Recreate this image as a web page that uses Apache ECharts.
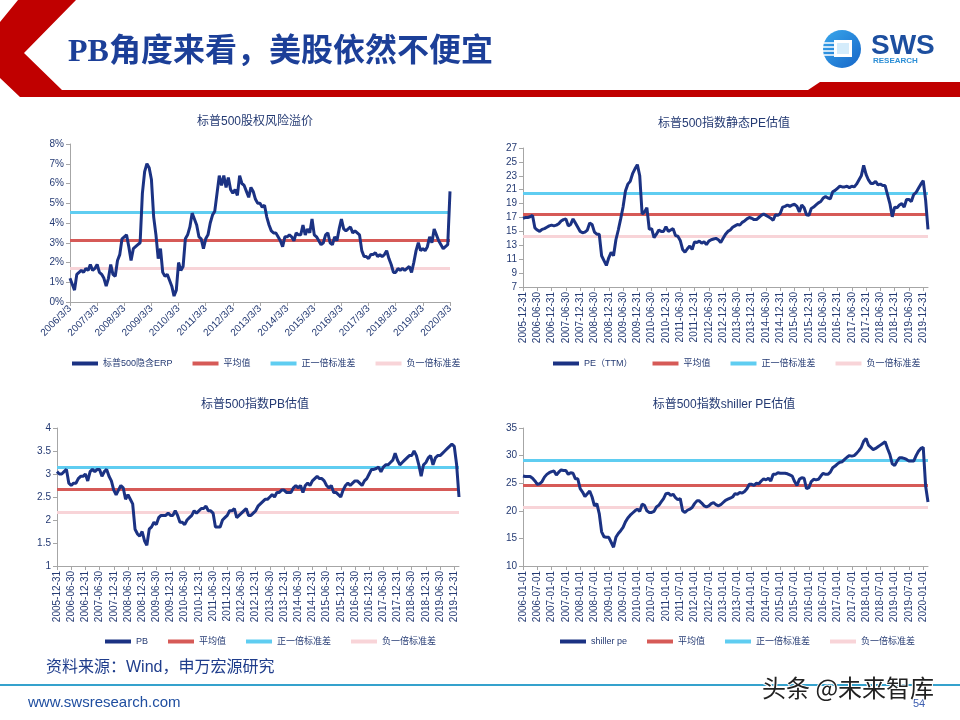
<!DOCTYPE html>
<html>
<head>
<meta charset="utf-8">
<title>PB角度来看，美股依然不便宜</title>
<script src="https://cdn.jsdelivr.net/npm/echarts@6/dist/echarts.min.js"></script>
<style>
html, body { margin: 0; padding: 0; background: #fff; }
#main { width: 960px; height: 720px; }
</style>
</head>
<body>
<div id="main"></div>
<script type="text/javascript">
// 标普500隐含ERP（%），2006/3 起逐月
var erpValues = [
  1.2,0.9,0.6,1.4,1.5,1.6,1.5,1.7,1.6,1.9,1.6,1.7,
  1.9,1.5,1.4,1.2,0.8,1.2,1.9,1.4,1.3,2.1,2.4,3.2,
  3.3,3.4,2.8,2.1,2.7,2.8,2.9,3.0,5.5,6.6,7.0,6.8,
  6.2,4.3,3.4,2.2,2.7,1.5,1.3,1.4,1.1,0.8,0.3,0.6,
  2.0,1.6,1.8,3.2,3.4,3.8,4.5,4.2,3.9,3.3,3.2,2.7,
  3.2,3.4,4.0,4.4,4.6,5.5,6.4,5.9,6.4,5.8,6.3,5.7,
  5.5,5.7,5.4,6.4,6.0,5.9,5.6,5.3,5.8,5.6,5.2,5.0,
  5.0,4.8,4.9,4.3,3.9,3.6,3.5,3.5,3.3,3.1,2.8,3.3,
  3.3,3.4,3.3,3.1,3.5,3.4,3.4,3.9,3.4,3.7,3.5,4.2,
  3.4,3.3,3.1,2.9,3.0,3.4,3.5,3.0,2.9,3.3,3.1,3.7,
  4.2,3.7,3.6,3.7,3.8,3.5,3.6,3.5,3.4,2.6,2.3,2.3,
  2.2,2.4,2.4,2.5,2.3,2.4,2.3,2.4,2.6,2.2,1.9,1.5,
  1.5,1.7,1.6,1.7,1.6,1.7,1.8,1.5,2.0,2.6,3.0,2.6,
  2.7,2.6,2.8,3.3,3.0,3.7,3.4,3.1,2.9,2.7,2.8,2.9,
  5.6
];
var erpBands = [3.12, 4.53, 1.73];

// 标普500静态PE（TTM），2005-12 起逐月
var peValues = [
  16.9,17.0,17.0,17.1,17.3,15.5,15.2,15.0,15.3,15.4,15.6,15.8,
  15.9,15.8,15.9,16.1,16.5,16.7,16.8,15.8,16.0,16.8,16.2,15.6,
  15.0,14.8,14.9,15.2,16.2,16.0,14.9,14.6,14.6,11.5,10.8,10.1,
  11.2,12.0,11.5,13.8,15.2,16.8,18.5,20.8,21.8,22.2,23.3,24.0,
  24.6,23.0,17.5,17.8,18.4,15.3,15.4,14.1,14.6,15.2,15.0,15.0,
  15.7,15.0,15.2,15.4,14.4,14.3,13.7,12.4,12.0,12.5,12.9,12.4,
  13.5,13.4,13.6,13.3,13.5,13.1,13.6,13.8,13.9,14.0,13.8,13.4,
  14.0,14.6,15.0,15.2,15.6,15.8,16.0,15.9,16.3,16.5,16.8,17.0,
  16.9,16.7,16.7,17.0,17.3,17.5,17.3,17.1,16.9,16.6,17.4,17.3,
  17.6,18.5,18.6,18.8,18.6,18.8,18.9,18.6,17.8,18.8,18.4,17.4,
  17.3,18.3,18.5,18.8,19.1,19.3,19.8,20.0,19.8,19.7,20.7,20.9,
  21.2,21.5,21.4,21.4,21.5,21.3,21.5,21.4,21.8,22.4,23.0,24.5,
  23.2,22.4,21.9,21.9,22.2,21.7,21.8,21.6,21.6,20.3,19.0,17.1,
  18.5,18.4,18.8,19.0,18.5,19.6,19.6,19.3,20.3,20.6,21.2,21.8,
  22.3,19.5,15.3
];
var peBands = [17.4, 20.43, 14.29];

// 标普500 PB，2005-12 起逐月
var pbValues = [
  3.05,3.0,3.0,3.05,3.1,2.8,2.75,2.8,2.8,2.9,2.95,2.95,
  3.0,2.85,3.05,3.1,3.05,3.1,3.1,2.95,3.05,3.1,2.95,2.85,
  2.65,2.55,2.65,2.75,2.7,2.45,2.55,2.45,2.35,1.8,1.7,1.65,
  1.75,1.55,1.45,1.8,1.85,1.95,1.9,2.05,2.1,2.1,2.1,2.15,
  2.1,2.1,2.2,2.1,1.95,1.95,1.9,2.0,2.05,2.1,2.2,2.15,
  2.2,2.25,2.25,2.3,2.2,2.2,2.15,1.85,1.85,1.85,2.0,2.05,
  2.1,2.2,2.2,2.25,2.05,2.1,2.15,2.2,2.25,2.1,2.1,2.15,
  2.2,2.3,2.35,2.4,2.45,2.45,2.5,2.55,2.5,2.6,2.6,2.65,
  2.65,2.6,2.6,2.6,2.7,2.75,2.7,2.75,2.6,2.75,2.8,2.75,
  2.85,2.9,2.95,2.9,2.9,2.85,2.75,2.7,2.75,2.6,2.6,2.55,
  2.5,2.65,2.75,2.8,2.75,2.8,2.85,2.85,2.8,2.75,2.85,2.9,
  3.0,3.1,3.1,3.12,3.15,3.05,3.15,3.2,3.2,3.25,3.3,3.45,
  3.3,3.2,3.25,3.3,3.35,3.4,3.4,3.5,3.4,3.2,2.95,3.2,
  3.25,3.35,3.4,3.2,3.35,3.4,3.4,3.45,3.5,3.55,3.6,3.65,
  3.6,3.2,2.5
];
var pbBands = [2.667, 3.148, 2.165];

// 标普500 shiller PE，2006-01 起逐月
var shillerValues = [
  26.3,26.2,26.2,26.2,25.9,25.4,24.8,24.9,25.3,26.1,26.6,26.9,
  27.1,27.2,26.5,27.0,27.4,27.3,27.3,26.6,26.9,26.8,25.8,25.8,
  24.0,23.4,22.6,23.1,23.6,22.5,20.9,21.3,19.5,16.2,15.3,15.2,
  15.2,14.3,13.4,15.2,15.9,16.4,17.0,18.0,18.7,19.2,19.6,20.0,
  20.3,19.9,21.2,21.0,20.0,19.7,19.7,19.9,20.7,21.0,21.6,22.2,
  23.1,23.2,22.8,23.0,22.4,22.0,22.2,20.0,19.7,20.1,20.3,20.6,
  21.3,21.8,21.8,21.4,20.9,20.7,20.9,21.3,21.5,21.1,20.9,21.1,
  21.5,21.9,22.1,22.3,22.5,23.1,23.0,23.3,23.2,23.5,24.0,24.8,
  24.8,24.6,25.0,24.9,25.4,25.8,25.6,25.9,25.4,26.6,26.6,26.9,
  26.8,26.8,26.8,26.7,26.5,26.3,25.3,24.6,25.7,26.0,25.9,24.0,
  24.2,25.3,25.7,25.6,25.7,26.3,26.8,26.6,26.6,27.0,27.8,28.1,
  28.5,28.8,28.9,29.3,29.7,30.0,29.9,30.0,30.4,30.9,31.5,32.6,
  33.1,31.9,31.5,31.1,31.3,31.6,31.9,32.2,32.5,31.3,30.2,28.5,
  28.2,29.0,29.6,29.6,29.5,29.3,29.0,29.0,29.0,30.0,30.8,31.3,
  31.5,24.5,21.6
];
var shillerBands = [24.71, 29.13, 20.65];

var bandNames = ['平均值', '正一倍标准差', '负一倍标准差'];
var bandColors = ['#d65a57', '#5fcdf1', '#f8d4d8'];
var lineColor = '#1b3283';
var textColor = '#243a73';
var axisColor = '#a6a6a6';
var fontFamily = "'Liberation Sans', 'Noto Sans CJK SC', sans-serif";

// 生成逐月类目标签
function monthLabels(year, month, n, kind) {
  var out = [];
  var ends = [31, 28, 31, 30, 31, 30, 31, 31, 30, 31, 30, 31];
  for (var i = 0; i < n; i++) {
    var mm = month < 10 ? '0' + month : '' + month;
    if (kind === 'slash') {
      out.push(year + '/' + month + '/3');
    } else if (kind === 'end') {
      var d = ends[month - 1];
      if (month === 2 && year % 4 === 0) d = 29;
      out.push(year + '-' + mm + '-' + d);
    } else {
      out.push(year + '-' + mm + '-01');
    }
    month++;
    if (month > 12) { month = 1; year++; }
  }
  return out;
}

var erpDates = monthLabels(2006, 3, erpValues.length, 'slash');
var peDates = monthLabels(2005, 12, peValues.length, 'end');
var pbDates = monthLabels(2005, 12, pbValues.length, 'end');
var shillerDates = monthLabels(2006, 1, shillerValues.length, 'start');

var charts = [
  { title: '标普500股权风险溢价', name: '标普500隐含ERP', dates: erpDates, values: erpValues, bands: erpBands,
    grid: { left: 70, top: 144, width: 380, height: 158 }, min: 0, max: 8, interval: 1, fmt: '{value}%',
    step: 12, rotate: 45, titleX: 250, titleY: 111, legendX: 67, legendY: 354 },
  { title: '标普500指数静态PE估值', name: 'PE（TTM）', dates: peDates, values: peValues, bands: peBands,
    grid: { left: 523, top: 148, width: 405, height: 139 }, min: 7, max: 27, interval: 2, fmt: '{value}',
    step: 6, rotate: 90, titleX: 719, titleY: 113, legendX: 548, legendY: 354 },
  { title: '标普500指数PB估值', name: 'PB', dates: pbDates, values: pbValues, bands: pbBands,
    grid: { left: 57, top: 428, width: 402, height: 138 }, min: 1, max: 4, interval: 0.5, fmt: '{value}',
    step: 6, rotate: 90, titleX: 250, titleY: 394, legendX: 100, legendY: 632 },
  { title: '标普500指数shiller PE估值', name: 'shiller pe', dates: shillerDates, values: shillerValues, bands: shillerBands,
    grid: { left: 523, top: 428, width: 405, height: 138 }, min: 10, max: 35, interval: 5, fmt: '{value}',
    step: 6, rotate: 90, titleX: 719, titleY: 394, legendX: 555, legendY: 632 }
];

var option = {
  animation: false,
  backgroundColor: '#ffffff',
  textStyle: { fontFamily: fontFamily },
  title: [], grid: [], xAxis: [], yAxis: [], legend: [], series: []
};

charts.forEach(function (c, i) {
  option.title.push({
    text: c.title, left: c.titleX, top: c.titleY, textAlign: 'center',
    textStyle: { fontSize: 12, fontWeight: 'normal', color: textColor, fontFamily: fontFamily }
  });
  option.grid.push(c.grid);
  option.xAxis.push({
    gridIndex: i, type: 'category', data: c.dates, boundaryGap: false,
    axisLine: { lineStyle: { color: axisColor } },
    axisTick: { show: true, interval: c.step - 1, length: 4, lineStyle: { color: axisColor } },
    axisLabel: { interval: c.step - 1, rotate: c.rotate, fontSize: 10, color: textColor, margin: 5 }
  });
  option.yAxis.push({
    gridIndex: i, type: 'value', min: c.min, max: c.max, interval: c.interval,
    splitLine: { show: false },
    axisLine: { show: true, lineStyle: { color: axisColor } },
    axisTick: { show: true, length: 4, lineStyle: { color: axisColor } },
    axisLabel: { fontSize: 10, color: textColor, margin: 6, formatter: c.fmt }
  });
  option.legend.push({
    data: [c.name].concat(bandNames), left: c.legendX, top: c.legendY,
    icon: 'rect', itemWidth: 26, itemHeight: 4, itemGap: 20,
    textStyle: { fontSize: 9, color: textColor }
  });
  option.series.push({
    type: 'line', name: c.name, xAxisIndex: i, yAxisIndex: i, data: c.values,
    symbol: 'none', color: lineColor, lineStyle: { width: 3, color: lineColor }, z: 5
  });
  c.bands.forEach(function (v, k) {
    option.series.push({
      type: 'line', name: bandNames[k], xAxisIndex: i, yAxisIndex: i, data: [],
      symbol: 'none', color: bandColors[k], lineStyle: { width: 3, color: bandColors[k] }, z: 3,
      markLine: {
        silent: true, symbol: ['none', 'none'], label: { show: false },
        lineStyle: { color: bandColors[k], width: 3, type: 'solid' },
        data: [{ yAxis: v }]
      }
    });
  });
});

// 页眉、页脚
option.graphic = [
  { type: 'polygon', silent: true, shape: { points: [[18, 0], [76, 0], [24, 53], [62, 90], [808, 90], [820, 82],
      [960, 82], [960, 97], [20, 97], [0, 78], [0, 22]] }, style: { fill: '#c00000' } },
  { type: 'text', x: 68, y: 53, style: { text: 'PB角度来看，美股依然不便宜', fill: '#1c3f98',
      font: "bold 32px 'Liberation Serif', 'Noto Sans CJK SC', serif", verticalAlign: 'middle' } },
  { type: 'circle', shape: { cx: 842, cy: 49, r: 19 }, style: { fill: new echarts.graphic.LinearGradient(0, 0, 1, 1,
      [{ offset: 0, color: '#3aa8ec' }, { offset: 1, color: '#1565c8' }]) } },
  { type: 'rect', shape: { x: 834, y: 40, width: 18, height: 17 }, style: { fill: '#ffffff' } },
  { type: 'rect', shape: { x: 837, y: 43, width: 12, height: 11 }, style: { fill: '#d4ecfb' } },
  { type: 'line', shape: { x1: 824, y1: 43, x2: 834, y2: 43 }, style: { stroke: '#ffffff', lineWidth: 1.5 } },
  { type: 'line', shape: { x1: 823, y1: 47, x2: 834, y2: 47 }, style: { stroke: '#ffffff', lineWidth: 1.5 } },
  { type: 'line', shape: { x1: 823, y1: 51, x2: 834, y2: 51 }, style: { stroke: '#ffffff', lineWidth: 1.5 } },
  { type: 'line', shape: { x1: 824, y1: 55, x2: 834, y2: 55 }, style: { stroke: '#ffffff', lineWidth: 1.5 } },
  { type: 'text', x: 871, y: 46, style: { text: 'SWS', fill: '#1d4f9f',
      font: "bold 28px 'Liberation Sans', sans-serif", verticalAlign: 'middle' } },
  { type: 'text', x: 873, y: 61, style: { text: 'RESEARCH', fill: '#2d8fd6',
      font: "bold 8px 'Liberation Sans', sans-serif", verticalAlign: 'middle' } },
  { type: 'text', x: 46, y: 668, style: { text: '资料来源：Wind，申万宏源研究', fill: '#1f3d8c',
      font: "16px 'Liberation Sans', 'Noto Sans CJK SC', sans-serif", verticalAlign: 'middle' } },
  { type: 'line', shape: { x1: 0, y1: 685, x2: 960, y2: 685 }, style: { stroke: '#35a2cd', lineWidth: 2 } },
  { type: 'text', x: 28, y: 703, style: { text: 'www.swsresearch.com', fill: '#1f4ea0',
      font: "15px 'Liberation Sans', sans-serif", verticalAlign: 'middle' } },
  { type: 'text', x: 913, y: 704, style: { text: '54', fill: '#3b5db0',
      font: "11px 'Liberation Sans', sans-serif", verticalAlign: 'middle' } },
  { type: 'text', x: 762, y: 688, z: 10, style: { text: '头条 @未来智库', fill: '#222222', stroke: '#ffffff', lineWidth: 2,
      font: "24px 'Noto Sans CJK SC', sans-serif", verticalAlign: 'middle' } }
];

var myChart = echarts.init(document.getElementById('main'));
myChart.setOption(option);
</script>
</body>
</html>
